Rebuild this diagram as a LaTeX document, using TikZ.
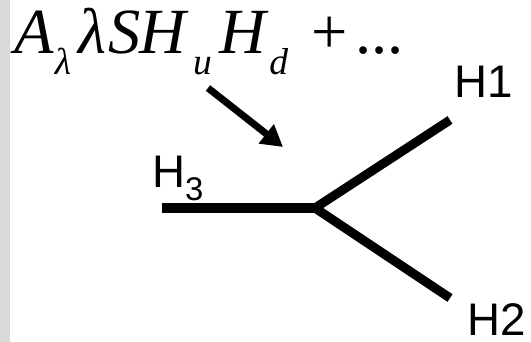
\documentclass[tikz,border=0pt]{standalone}
\usepackage{fontspec}
\setmainfont{Liberation Serif}
\newfontfamily\labelfont{Liberation Sans}
\usetikzlibrary{arrows.meta}

\definecolor{ink}{HTML}{000000}
\definecolor{stripgray}{HTML}{D9D9D9}

% subscript set low, as the equation editor does
\newcommand{\lowsub}[1]{\raisebox{-.32em}{\fontsize{32}{33}\selectfont #1}}
\newcommand{\labsub}[1]{\raisebox{-.3em}{\fontsize{28}{30}\selectfont #1}}

\begin{document}
\begin{tikzpicture}[
  x=.03cm,
  y=-.03cm,
  leg/.style={draw=ink,line width=7.7pt},
  pointer/.style={draw=ink,line width=6pt,-{Triangle[length=.64cm,width=.7cm]}},
  hlabel/.style={font=\labelfont\fontsize{39}{40}\selectfont,text=ink,inner sep=0pt,anchor=base west},
  formula/.style={font=\fontsize{55}{56}\selectfont\itshape,text=ink,inner sep=0pt,anchor=base west}
]
\useasboundingbox (0,0) rectangle (531,342);
\fill[white] (0,0) rectangle (531,342);
\fill[stripgray] (0,0) rectangle (10,342);

\node[formula] (coupling) at (14,54)
  {A\kern.02em\lowsub{λ}\kern.12em λ\kern.02em S\kern-.02em H\kern.12em\lowsub{u}\kern.12em H\kern.05em\lowsub{d}\kern.36em{\upshape +\kern.12em...}};

% vertex
\coordinate (vtx) at (315,208);
\coordinate (h3end) at (162,208);
\coordinate (h1end) at (450,120);
\coordinate (h2end) at (450,298);
\coordinate (ptrstart) at (208,88);
\coordinate (ptrtip) at (283,147);

\draw[leg] (h3end) -- (vtx);
\draw[leg] (vtx) -- (h1end);
\draw[leg] (vtx) -- (h2end);
\draw[pointer] (ptrstart) -- (ptrtip);

\node[hlabel] (h3) at (152,187) {H\labsub{3}};
\node[hlabel] (h1) at (454,98) {H1};
\node[hlabel] (h2) at (467,335) {H2};
\end{tikzpicture}
\end{document}
